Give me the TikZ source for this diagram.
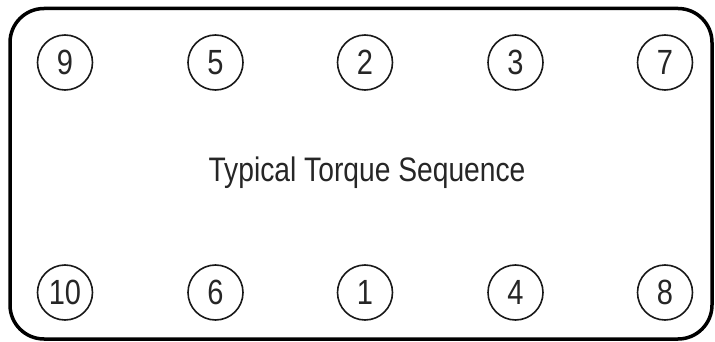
\documentclass[tikz,border=0pt]{standalone}
\usepackage{fontspec}
\setmainfont{Liberation Sans}[FakeStretch=0.83]
\begin{document}
\begin{tikzpicture}[x=1pt,y=-1pt,
  bolt/.style={circle,draw=black!90,line width=1.6pt,minimum size=55pt,inner sep=0pt,
    font=\fontsize{35}{38}\selectfont,text=black!85},
  titletext/.style={font=\fontsize{34}{36}\selectfont,text=black!85,inner sep=0pt,anchor=base}]
\useasboundingbox (0,0) rectangle (715,342);
\draw[line width=3.5pt,rounded corners=34pt] (10,8.5) rectangle (712,339);
\node[bolt] (b9) at (65,62.5) {9};
\node[bolt] (b5) at (215.5,62.5) {5};
\node[bolt] (b2) at (365,62.5) {2};
\node[bolt] (b3) at (515.5,62.5) {3};
\node[bolt] (b7) at (665,62.5) {7};
\node[bolt] (b10) at (65,292.5) {10};
\node[bolt] (b6) at (215.5,292.5) {6};
\node[bolt] (b1) at (365,292.5) {1};
\node[bolt] (b4) at (515.5,292.5) {4};
\node[bolt] (b8) at (665,292.5) {8};
\node[titletext] (title) at (367,182) {Typical Torque Sequence};
\end{tikzpicture}
\end{document}
